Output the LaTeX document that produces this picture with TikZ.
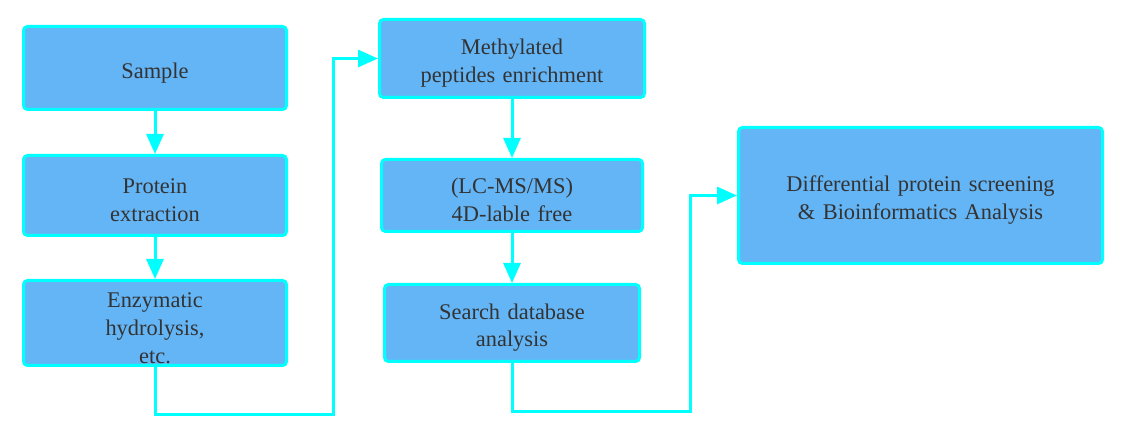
\documentclass[tikz,border=0pt]{standalone}
\usepackage{fontspec}
\setmainfont{Liberation Serif}
\usetikzlibrary{arrows.meta}
\definecolor{boxblue}{HTML}{64B5F6}
\definecolor{edgecyan}{HTML}{00FFFF}
\definecolor{txtgray}{HTML}{333333}
\newcommand{\boxstrut}{\rule{0pt}{12.5pt}}
\tikzset{
    flowbox/.style={draw=edgecyan, line width=1.5pt, fill=boxblue, rounded corners=2pt,
        align=center, text width=120pt, text=txtgray, inner sep=0pt,
        font=\fontsize{11.2}{13.9}\selectfont},
    flowarrow/.style={draw=edgecyan, line width=1.5pt, -{Triangle[length=10pt, width=8.5pt]}},
}

\begin{document}
\begin{tikzpicture}[x=0.5pt, y=-0.5pt]
    \useasboundingbox (0,0) rectangle (1124,432);
    %%% left column
    \node[flowbox, minimum width=131.5pt, minimum height=41.5pt] (sample) at (155,68) {\boxstrut Sample};
    \node[flowbox, minimum width=131.5pt, minimum height=40pt] (protein) at (155,195.5) {\boxstrut Protein\\extraction};
    \node[flowbox, minimum width=131.5pt, minimum height=42.5pt] (enzyme) at (155,323) {\boxstrut Enzymatic\\hydrolysis,\\etc.};
    %
    %%% middle column
    \node[flowbox, minimum width=132.5pt, minimum height=39pt] (methyl) at (512,58.5) {\boxstrut Methylated\\peptides enrichment};
    \node[flowbox, minimum width=130.5pt, minimum height=36pt] (lcms) at (512,195.5) {\boxstrut (LC-MS/MS)\\4D-lable free};
    \node[flowbox, minimum width=127.5pt, minimum height=38.5pt] (search) at (512,323) {\boxstrut Search database\\analysis};
    %
    %%% right
    \node[flowbox, text width=170pt, minimum width=182pt, minimum height=68pt] (diff) at (920.5,195.5) {\boxstrut Differential protein screening\\ \& Bioinformatics Analysis};
    %
    \coordinate (bendA) at (333,415);
    \coordinate (bendB) at (690,412);
    %
    \draw[flowarrow] (sample) -- (protein);
    \draw[flowarrow] (protein) -- (enzyme);
    \draw[flowarrow] (enzyme.south) |- (bendA) |- (methyl.west);
    \draw[flowarrow] (methyl) -- (lcms);
    \draw[flowarrow] (lcms) -- (search);
    \draw[flowarrow] (search.south) |- (bendB) |- (diff.west);
\end{tikzpicture}
\end{document}
